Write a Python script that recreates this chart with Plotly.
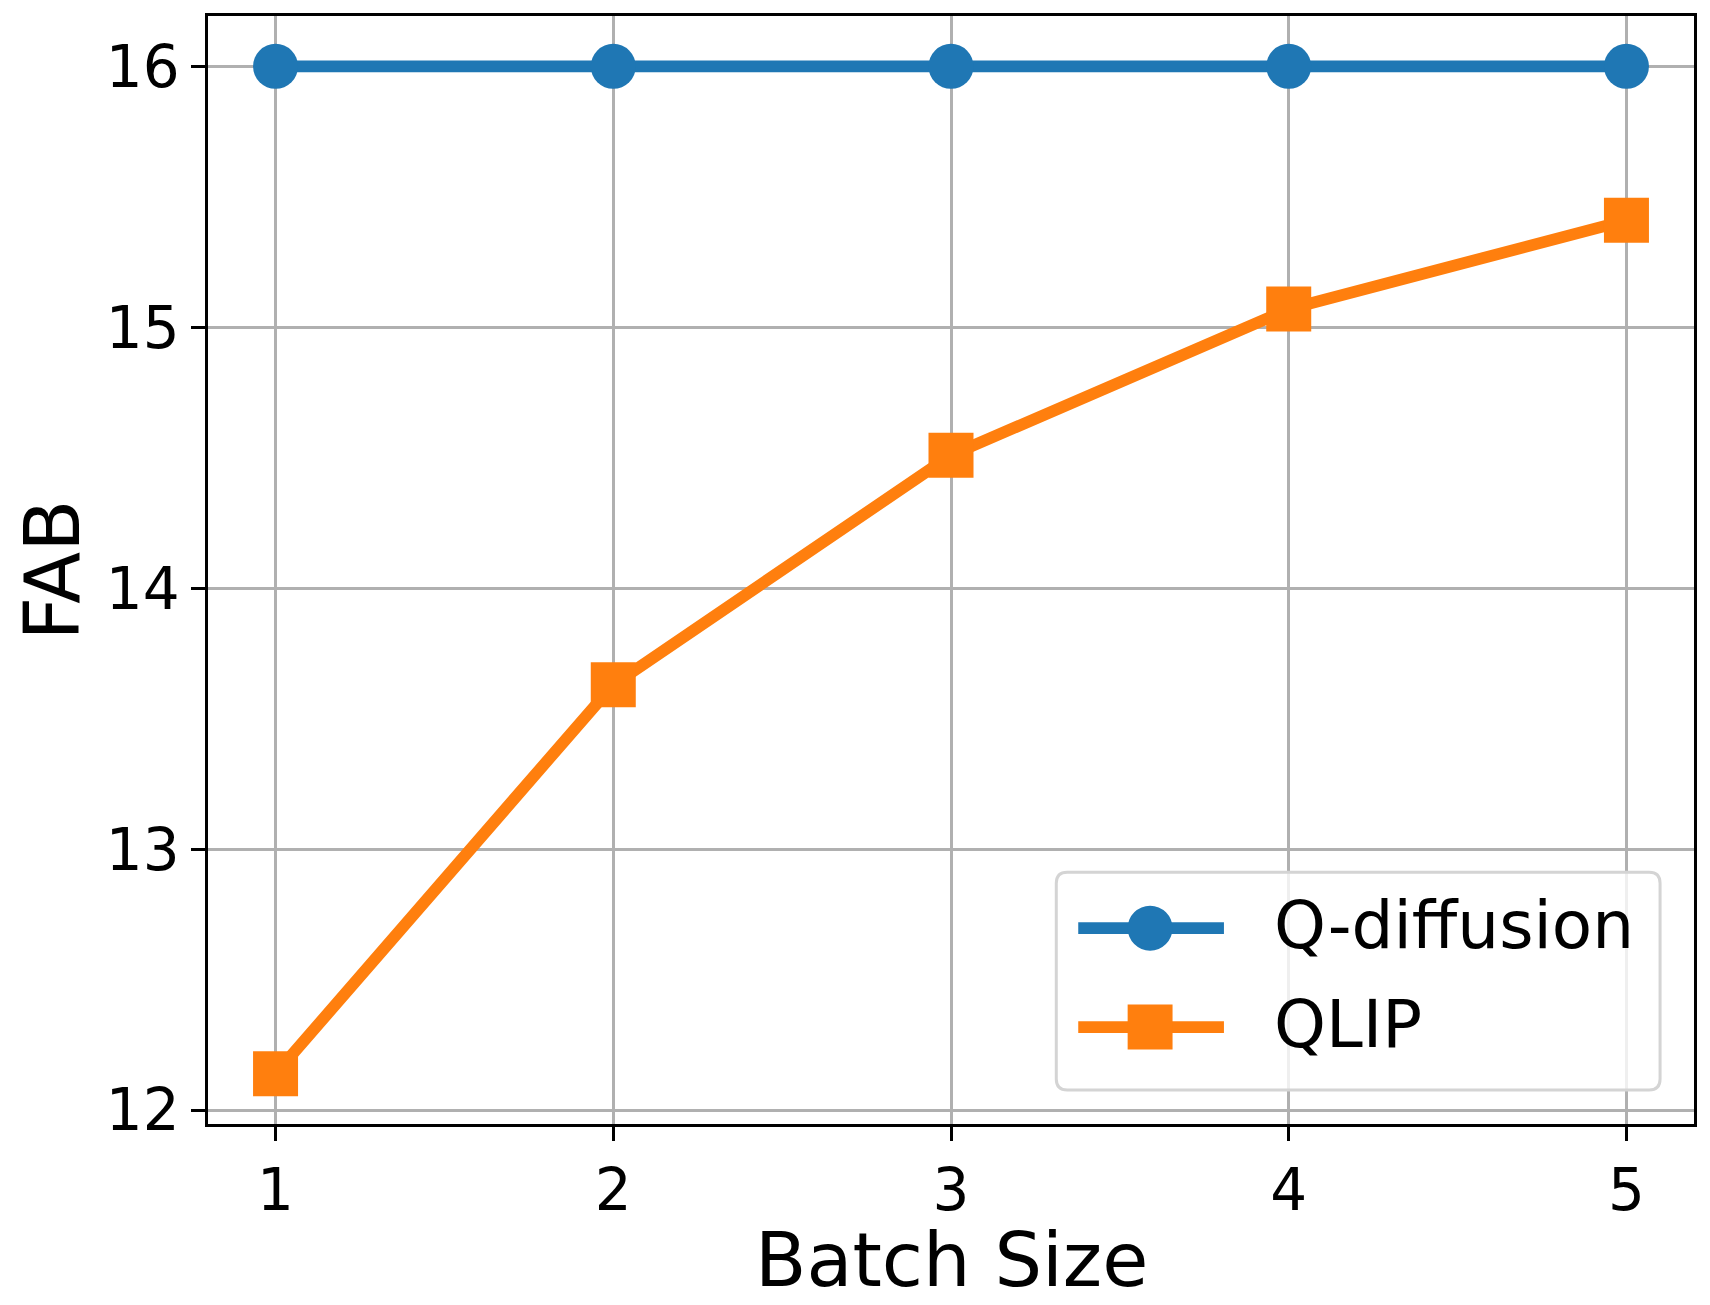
import plotly.graph_objects as go

# ---- data ----
batch_sizes = [1, 2, 3, 4, 5]
qdiffusion_fab = [16.0, 16.0, 16.0, 16.0, 16.0]
qlip_fab = [12.14, 13.63, 14.51, 15.07, 15.41]
series_names = ["Q-diffusion", "QLIP"]
y_ticks = [12, 13, 14, 15, 16]
x_ticks = [1, 2, 3, 4, 5]
x_title = "Batch Size"
y_title = "FAB"

BLUE = "#1f77b4"
ORANGE = "#ff7f0e"
FONT = "DejaVu Sans"

# page has an 8px body margin; size the figure so it fits the 1710x1305 window
OFF = 8
W, H = 1710 - 2 * OFF, 1305 - 2 * OFF
# plot area in absolute page pixels
PL, PR, PT, PB = 208, 1697, 15, 1124
L, R, T, B = PL - OFF, W - (PR - OFF), PT - OFF, H - (PB - OFF)
PW, PH = PR - PL, PB - PT

fig = go.Figure()
fig.add_trace(go.Scatter(
    x=batch_sizes, y=qdiffusion_fab, name=series_names[0], mode="lines+markers",
    line=dict(color=BLUE, width=11.7),
    marker=dict(symbol="circle", size=45, color=BLUE, line=dict(width=0)),
    showlegend=False,
))
fig.add_trace(go.Scatter(
    x=batch_sizes, y=qlip_fab, name=series_names[1], mode="lines+markers",
    line=dict(color=ORANGE, width=11.7),
    marker=dict(symbol="square", size=45, color=ORANGE, line=dict(width=0)),
    showlegend=False,
))

# x/y ranges with matplotlib-like 5% margins
xmin, xmax = min(batch_sizes), max(batch_sizes)
xm = 0.05 * (xmax - xmin)
allv = qdiffusion_fab + qlip_fab
ymin, ymax = min(allv), max(allv)
ym = 0.05 * (ymax - ymin)

axis_common = dict(
    showline=True, linecolor="black", linewidth=2.7, mirror=True,
    ticks="outside", ticklen=14, tickwidth=2.7, tickcolor="black",
    showgrid=True, gridcolor="#b0b0b0", gridwidth=2.7, zeroline=False,
    tickfont=dict(family=FONT, size=58, color="black"),
)

fig.update_xaxes(
    range=[xmin - xm, xmax + xm], tickvals=x_ticks, ticktext=[str(v) for v in x_ticks],
    **axis_common,
)
fig.update_yaxes(
    range=[ymin - ym, ymax + ym], tickvals=y_ticks, ticktext=[str(v) for v in y_ticks],
    title=dict(text=y_title, font=dict(family=FONT, size=76, color="black"), standoff=10),
    **axis_common,
)


# ---- helpers: absolute page pixels -> paper coords ----
def px(x):
    return (x - PL) / PW

def py(y):
    return 1 - (y - PT) / PH


annotations = []
# x axis title placed precisely (matplotlib position)
annotations.append(dict(xref="paper", yref="paper", x=0.5, y=py(1260),
                        xanchor="center", yanchor="middle", text=x_title, showarrow=False,
                        font=dict(family=FONT, size=75, color="black")))

# ---- custom legend (matplotlib style) ----
bx0, by0, bx1, by1, rad = 1058, 872, 1663, 1090, 11
path = (
    f"M {px(bx0+rad)},{py(by0)} L {px(bx1-rad)},{py(by0)} "
    f"Q {px(bx1)},{py(by0)} {px(bx1)},{py(by0+rad)} "
    f"L {px(bx1)},{py(by1-rad)} Q {px(bx1)},{py(by1)} {px(bx1-rad)},{py(by1)} "
    f"L {px(bx0+rad)},{py(by1)} Q {px(bx0)},{py(by1)} {px(bx0)},{py(by1-rad)} "
    f"L {px(bx0)},{py(by0+rad)} Q {px(bx0)},{py(by0)} {px(bx0+rad)},{py(by0)} Z"
)
shapes = [dict(type="path", xref="paper", yref="paper", path=path,
               fillcolor="rgba(255,255,255,0.8)", line=dict(color="#d4d4d4", width=3),
               layer="above")]
rows = [(928, BLUE, "circle", series_names[0]), (1027, ORANGE, "square", series_names[1])]
for yc, col, sym, name in rows:
    shapes.append(dict(type="line", xref="paper", yref="paper",
                       x0=px(1080), x1=px(1226), y0=py(yc), y1=py(yc),
                       line=dict(color=col, width=11.7), layer="above"))
    s = 22.5
    shapes.append(dict(type="circle" if sym == "circle" else "rect", xref="paper", yref="paper",
                       x0=px(1152 - s), x1=px(1152 + s), y0=py(yc - s), y1=py(yc + s),
                       fillcolor=col, line=dict(width=0), layer="above"))
    annotations.append(dict(xref="paper", yref="paper", x=px(1274), y=py(yc - 3),
                            xanchor="left", yanchor="middle", text=name, showarrow=False,
                            font=dict(family=FONT, size=66, color="black")))

fig.update_layout(
    width=W, height=H,
    margin=dict(l=L, r=R, t=T, b=B),
    plot_bgcolor="white", paper_bgcolor="white",
    font=dict(family=FONT, color="black"),
    shapes=shapes, annotations=annotations,
    showlegend=False,
)

fig.write_html("out.html")
